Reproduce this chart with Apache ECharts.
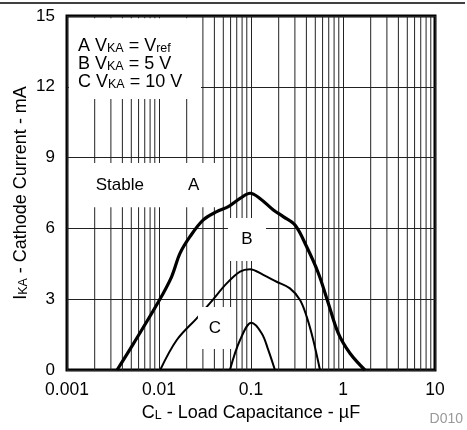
<!DOCTYPE html>
<html><head><meta charset="utf-8">
<script src="https://cdn.jsdelivr.net/npm/echarts@6/dist/echarts.min.js"></script>
<style>html,body{margin:0;padding:0;background:#fff}#c{width:467px;height:430px}</style>
</head><body><div id="c"></div>
<script>
// ---- data ----
const xTickLabels = ['0.001', '0.01', '0.1', '1', '10'];
const yTickValues = [0, 3, 6, 9, 12, 15];
// Curve A  (VKA = Vref)
const capA = [0.0035, 0.0053, 0.0099, 0.0137, 0.0169, 0.0217, 0.0303, 0.0424, 0.0567, 0.076, 0.098, 0.125, 0.175, 0.224, 0.301, 0.403, 0.54, 0.692, 0.89, 1.19, 1.73];
const curA = [0, 1.13, 2.9, 3.95, 4.94, 5.65, 6.36, 6.71, 6.92, 7.27, 7.49, 7.27, 6.78, 6.5, 6.14, 5.22, 4.1, 2.83, 1.55, 0.71, 0];
// Curve B  (VKA = 5 V)
const capB = [0.0103, 0.0156, 0.0257, 0.0358, 0.0544, 0.076, 0.0975, 0.136, 0.19, 0.265, 0.341, 0.403, 0.475, 0.562];
const curB = [0, 1.27, 2.19, 2.83, 3.67, 4.17, 4.27, 4.03, 3.74, 3.46, 2.97, 2.26, 1.27, 0];
// Curve C  (VKA = 10 V)
const capC = [0.059, 0.076, 0.101, 0.131, 0.154, 0.182];
const curC = [0, 1.27, 2.0, 1.55, 0.85, 0];
// minor log grid multipliers
const minorMultipliers = [2, 3, 4, 5, 6, 7, 8, 9];
const decades = [0.001, 0.01, 0.1, 1];

// ---- build ----
const FF = "'Liberation Sans', Arial, Helvetica, sans-serif";
const pairs = (xs, ys) => xs.map((x, i) => [x, ys[i]]);
const minorX = [];
decades.forEach(d => minorMultipliers.forEach(m => minorX.push(+(d * m).toPrecision(3))));

const rich = {
  n: { fontSize: 18, lineHeight: 18, color: '#000', fontFamily: FF },
  s: { fontSize: 12.5, lineHeight: 8, verticalAlign: 'bottom', color: '#000', fontFamily: FF },
  gap: { fontSize: 17, width: 44, lineHeight: 18 }
};
const richBox = {
  n: { fontSize: 17, lineHeight: 18, color: '#000', fontFamily: FF },
  gap: { fontSize: 17, width: 44, lineHeight: 18 }
};

const chart = echarts.init(document.getElementById('c'), null, { renderer: 'canvas' });
chart.setOption({
  animation: false,
  backgroundColor: '#fff',
  textStyle: { fontFamily: FF },
  grid: {
    left: 67, right: 32, top: 16, bottom: 60,
    containLabel: false, outerBoundsMode: 'none',
    show: true, borderColor: '#000', borderWidth: 3, backgroundColor: 'transparent'
  },
  xAxis: {
    type: 'log', logBase: 10, min: 0.001, max: 10,
    axisLine: { show: false }, axisTick: { show: false },
    splitLine: { show: true, lineStyle: { color: '#222', width: 1 } },
    axisLabel: {
      margin: 11, fontSize: 17.5, color: '#000', fontFamily: FF,
      formatter: v => xTickLabels[Math.round(Math.log10(v)) + 3]
    },
    name: '{n|C}{s|L}{n| - Load Capacitance - µF}',
    nameLocation: 'middle', nameGap: 34, nameMoveOverlap: false,
    nameTextStyle: { rich: rich }
  },
  yAxis: {
    type: 'value', min: yTickValues[0], max: yTickValues[yTickValues.length - 1], interval: 3,
    axisLine: { show: false }, axisTick: { show: false },
    splitLine: { show: true, lineStyle: { color: '#222', width: 1 } },
    axisLabel: { margin: 12, fontSize: 17, color: '#000', fontFamily: FF },
    name: '{n|I}{s|KA}{n| - Cathode Current - mA}',
    nameLocation: 'middle', nameGap: 37, nameMoveOverlap: false,
    nameTextStyle: { rich: rich }
  },
  series: [
    {
      name: 'minorGrid', type: 'custom', z: 0, silent: true,
      data: minorX.map(v => [v, 0]),
      encode: { x: 0, y: 1 },
      renderItem: (params, api) => {
        const x = api.coord([api.value(0), 0])[0];
        const cs = params.coordSys;
        return { type: 'line', shape: { x1: x, y1: cs.y, x2: x, y2: cs.y + cs.height },
                 style: { stroke: '#222', lineWidth: 1 } };
      }
    },
    { name: 'A', type: 'line', z: 2, data: pairs(capA, curA), smooth: 0.35, symbol: 'none',
      lineStyle: { color: '#000', width: 3.2 } },
    { name: 'B', type: 'line', z: 2, data: pairs(capB, curB), smooth: 0.35, symbol: 'none',
      lineStyle: { color: '#000', width: 2 } },
    { name: 'C', type: 'line', z: 2, data: pairs(capC, curC), smooth: 0.35, symbol: 'none',
      lineStyle: { color: '#000', width: 2 } },
    {
      name: 'boxes', type: 'line', z: 3, silent: true,
      data: [[0.001, 0]], symbol: 'none', lineStyle: { width: 0 },
      markArea: {
        z: 3, silent: true,
        itemStyle: { color: '#fff', opacity: 1 },
        label: { show: true, color: '#000', fontFamily: FF, rich: richBox },
        data: [
          [{ xAxis: 0.00105, yAxis: 14.9,
             label: { position: [9, 19], rich: rich, formatter: '{n|A V}{s|KA}{n| = V}{s|ref}\n{n|B V}{s|KA}{n| = 5 V}\n{n|C V}{s|KA}{n| = 10 V}' } },
           { xAxis: 0.0286, yAxis: 11.48 }],
          [{ xAxis: 0.00105, yAxis: 8.77,
             label: { position: 'inside', offset: [3, 0], formatter: '{n|Stable}{gap| }{n|A}' } },
           { xAxis: 0.046, yAxis: 6.9 }],
          [{ xAxis: 0.0562, yAxis: 6.44, label: { position: 'inside', formatter: '{n|B}' } },
           { xAxis: 0.1456, yAxis: 4.62 }],
          [{ xAxis: 0.0265, yAxis: 2.67, label: { position: 'inside', formatter: '{n|C}' } },
           { xAxis: 0.062, yAxis: 0.89 }]
        ]
      }
    }
  ],
  graphic: [
    { type: 'line', silent: true, shape: { x1: 0, y1: 3, x2: 465, y2: 3 }, style: { stroke: '#000', lineWidth: 1.5 } },
    { type: 'text', right: 4, top: 412, style: { text: 'D010', fill: '#999', font: "14px 'Liberation Sans', Arial, sans-serif" } }
  ]
});
</script>
</body></html>
